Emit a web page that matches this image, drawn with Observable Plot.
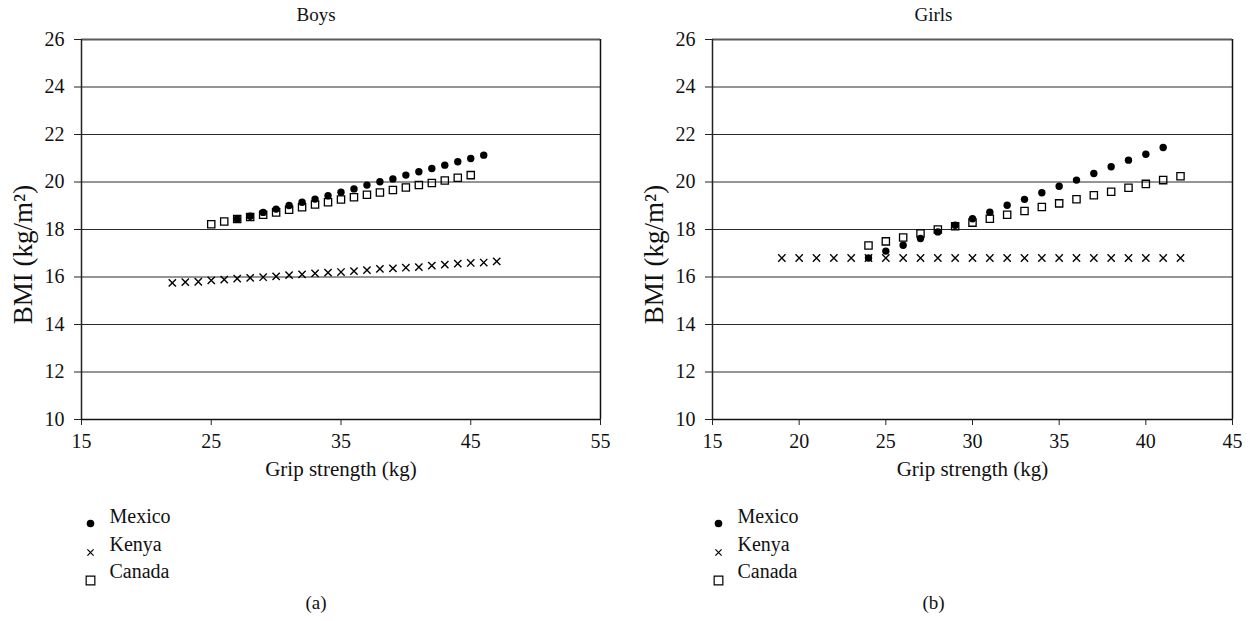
<!DOCTYPE html>
<html>
<head>
<meta charset="utf-8">
<script src="https://cdn.jsdelivr.net/npm/d3@7"></script>
<script src="https://cdn.jsdelivr.net/npm/@observablehq/plot@0.6"></script>
<style>
  body { margin: 0; background: #fff; }
  #wrap { position: relative; width: 1250px; height: 621px; display: flex; }
  #wrap svg { display: block; }
</style>
</head>
<body>
<div id="wrap"></div>
<script>
// ---------- Data ----------
const seriesNames = ["Mexico", "Kenya", "Canada"];
const yTickValues = [10, 12, 14, 16, 18, 20, 22, 24, 26];

// Boys
const boysXDomain = [15, 55];
const boysXTicks = [15, 25, 35, 45, 55];
const boysMexicoGrip = [27, 28, 29, 30, 31, 32, 33, 34, 35, 36, 37, 38, 39, 40, 41, 42, 43, 44, 45, 46];
const boysMexicoBmi  = [18.44, 18.56, 18.72, 18.86, 19.01, 19.15, 19.28, 19.42, 19.57, 19.71, 19.87, 20.01, 20.13, 20.29, 20.43, 20.57, 20.71, 20.85, 20.99, 21.13];
const boysKenyaGrip  = [22, 23, 24, 25, 26, 27, 28, 29, 30, 31, 32, 33, 34, 35, 36, 37, 38, 39, 40, 41, 42, 43, 44, 45, 46, 47];
const boysKenyaBmi   = [15.75, 15.78, 15.80, 15.86, 15.89, 15.93, 15.96, 15.99, 16.03, 16.08, 16.11, 16.15, 16.18, 16.21, 16.25, 16.29, 16.34, 16.36, 16.39, 16.42, 16.48, 16.52, 16.56, 16.59, 16.61, 16.66];
const boysCanadaGrip = [25, 26, 27, 28, 29, 30, 31, 32, 33, 34, 35, 36, 37, 38, 39, 40, 41, 42, 43, 44, 45];
const boysCanadaBmi  = [18.22, 18.34, 18.44, 18.53, 18.62, 18.72, 18.83, 18.94, 19.05, 19.15, 19.26, 19.36, 19.46, 19.56, 19.66, 19.77, 19.87, 19.96, 20.06, 20.18, 20.29];

// Girls
const girlsXDomain = [15, 45];
const girlsXTicks = [15, 20, 25, 30, 35, 40, 45];
const girlsMexicoGrip = [24, 25, 26, 27, 28, 29, 30, 31, 32, 33, 34, 35, 36, 37, 38, 39, 40, 41];
const girlsMexicoBmi  = [16.80, 17.09, 17.34, 17.62, 17.90, 18.18, 18.45, 18.73, 19.02, 19.27, 19.55, 19.82, 20.08, 20.36, 20.64, 20.92, 21.17, 21.45];
const girlsKenyaGrip  = [19, 20, 21, 22, 23, 24, 25, 26, 27, 28, 29, 30, 31, 32, 33, 34, 35, 36, 37, 38, 39, 40, 41, 42];
const girlsKenyaBmi   = [16.8, 16.8, 16.8, 16.8, 16.8, 16.8, 16.8, 16.8, 16.8, 16.8, 16.8, 16.8, 16.8, 16.8, 16.8, 16.8, 16.8, 16.8, 16.8, 16.8, 16.8, 16.8, 16.8, 16.8];
const girlsCanadaGrip = [24, 25, 26, 27, 28, 29, 30, 31, 32, 33, 34, 35, 36, 37, 38, 39, 40, 41, 42];
const girlsCanadaBmi  = [17.33, 17.50, 17.66, 17.83, 18.00, 18.14, 18.29, 18.45, 18.62, 18.78, 18.95, 19.10, 19.27, 19.44, 19.59, 19.76, 19.92, 20.08, 20.24];

// ---------- Drawing ----------
const zip = (xs, ys) => xs.map((x, i) => ({x, y: ys[i]}));
const FONT = '"Liberation Serif", "DejaVu Serif", serif';
const FS = 19;

function panel(cfg) {
  const mexico = zip(cfg.mexicoGrip, cfg.mexicoBmi);
  const kenya = zip(cfg.kenyaGrip, cfg.kenyaBmi);
  const canada = zip(cfg.canadaGrip, cfg.canadaBmi);
  const legY = [103, 131, 158];
  const txt = {fill: "#111", fontSize: FS, fontFamily: FONT};
  return Plot.plot({
    width: 625,
    height: 621,
    marginLeft: cfg.ml,
    marginRight: cfg.mr,
    marginTop: 39,
    marginBottom: 202,
    style: {fontFamily: FONT, fontSize: FS + "px", color: "#111", background: "#fff", overflow: "visible"},
    x: {domain: cfg.xDomain},
    y: {domain: [10, 26]},
    marks: [
      Plot.gridY(yTickValues, {stroke: "#2a2a2a", strokeOpacity: 1, strokeWidth: 1}),
      Plot.ruleY([26], {stroke: "#5a5a5a", strokeWidth: 2}),
      Plot.ruleX([cfg.xDomain[1]], {stroke: "#111", strokeWidth: 1.5}),
      Plot.ruleX([cfg.xDomain[0]], {stroke: "#222", strokeWidth: 1.5}),
      Plot.ruleY([10], {stroke: "#111", strokeWidth: 1.5}),
      Plot.axisY(yTickValues, {tickSize: 7, tickPadding: 10, label: null, stroke: "#222", fontSize: 20, fontFamily: FONT}),
      Plot.axisX(cfg.xTicks, {tickSize: 6, tickPadding: 8, label: null, stroke: "#222", fontSize: 20, fontFamily: FONT}),
      Plot.dot(mexico, {x: "x", y: "y", r: 3.7, fill: "#000", stroke: "none"}),
      Plot.dot(kenya, {x: "x", y: "y", symbol: "times", r: 3.4, stroke: "#000", strokeWidth: 1.4}),
      Plot.dot(canada, {x: "x", y: "y", symbol: "square", r: 4.1, stroke: "#000", fill: "none", strokeWidth: 1.3}),
      Plot.text([cfg.title], {frameAnchor: "top", dx: cfg.chartDx, dy: -32, ...txt}),
      Plot.text(["Grip strength (kg)"], {frameAnchor: "bottom", dy: 56, ...txt, fontSize: 21}),
      Plot.text(["BMI (kg/m²)"], {frameAnchor: "left", textAnchor: "middle", dx: -58, dy: 25, rotate: -90, ...txt, fontSize: 27}),
      Plot.text([cfg.tag], {frameAnchor: "bottom", dx: cfg.chartDx, dy: 189, ...txt}),
      // legend
      Plot.dot([seriesNames[0]], {frameAnchor: "bottom-left", dx: cfg.legDx, dy: legY[0] + 1, r: 3.8, fill: "#000", stroke: "none"}),
      Plot.dot([seriesNames[1]], {frameAnchor: "bottom-left", dx: cfg.legDx, dy: legY[1] + 2, symbol: "times", r: 2.9, stroke: "#000", strokeWidth: 1.2}),
      Plot.dot([seriesNames[2]], {frameAnchor: "bottom-left", dx: cfg.legDx, dy: legY[2] + 3, symbol: "square", r: 4.9, stroke: "#000", fill: "none", strokeWidth: 1.2}),
      Plot.text([seriesNames[0]], {frameAnchor: "bottom-left", dx: cfg.legDx + 19, dy: legY[0], textAnchor: "start", ...txt, fontSize: 20}),
      Plot.text([seriesNames[1]], {frameAnchor: "bottom-left", dx: cfg.legDx + 19, dy: legY[1], textAnchor: "start", ...txt, fontSize: 20}),
      Plot.text([seriesNames[2]], {frameAnchor: "bottom-left", dx: cfg.legDx + 19, dy: legY[2], textAnchor: "start", ...txt, fontSize: 20})
    ]
  });
}

const wrap = document.getElementById("wrap");
wrap.appendChild(panel({
  title: "Boys", tag: "(a)", ml: 81, mr: 25, chartDx: -25, legDx: 9,
  xDomain: boysXDomain, xTicks: boysXTicks,
  mexicoGrip: boysMexicoGrip, mexicoBmi: boysMexicoBmi,
  kenyaGrip: boysKenyaGrip, kenyaBmi: boysKenyaBmi,
  canadaGrip: boysCanadaGrip, canadaBmi: boysCanadaBmi
}));
wrap.appendChild(panel({
  title: "Girls", tag: "(b)", ml: 87, mr: 18, chartDx: -39, legDx: 6,
  xDomain: girlsXDomain, xTicks: girlsXTicks,
  mexicoGrip: girlsMexicoGrip, mexicoBmi: girlsMexicoBmi,
  kenyaGrip: girlsKenyaGrip, kenyaBmi: girlsKenyaBmi,
  canadaGrip: girlsCanadaGrip, canadaBmi: girlsCanadaBmi
}));
</script>
</body>
</html>
